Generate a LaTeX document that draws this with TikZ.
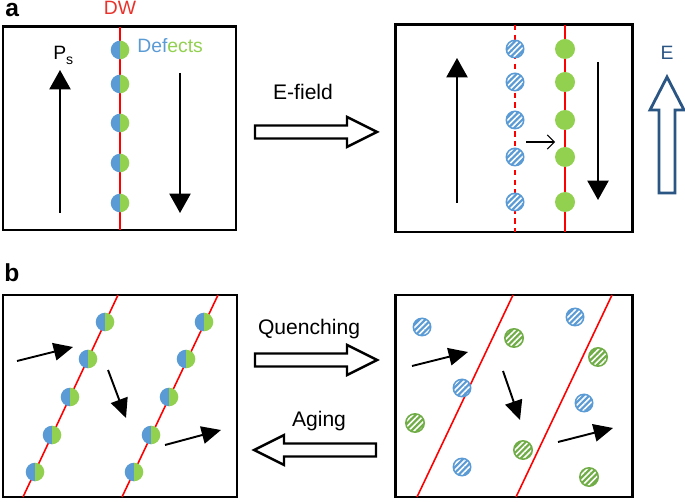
\documentclass[tikz,border=0pt]{standalone}
\usepackage{fontspec}
\setmainfont{Liberation Sans}
\usetikzlibrary{arrows.meta,patterns.meta}

\definecolor{dwred}{HTML}{FF0000}
\definecolor{dwtext}{HTML}{E8322B}
\definecolor{defblue}{HTML}{5B9BD5}
\definecolor{defgreen}{HTML}{92D050}
\definecolor{hatchgreen}{HTML}{70AD47}
\definecolor{fieldblue}{HTML}{2B5583}

\tikzset{
  panel/.style={draw=black, line width=1.7pt},
  dwall/.style={draw=dwred, line width=0.9pt},
  psarrow/.style={-{Triangle[length=11pt,width=12pt]}, line width=1.1pt},
  grainarrow/.style={-{Triangle[length=11pt,width=10pt]}, line width=1.1pt},
  hollow/.style={draw=black, fill=white, line width=1.4pt, line join=miter},
  captxt/.style={font=\fontsize{12}{14}\selectfont},
  smalltxt/.style={font=\fontsize{11}{13}\selectfont},
  panelname/.style={font=\fontsize{14}{16}\selectfont\bfseries, inner sep=0pt},
  defect/.pic={
    \fill[defblue] (0,-9.3) arc (-90:-270:9.3) -- cycle;
    \fill[defgreen] (0,-9.3) arc (-90:90:9.3) -- cycle;
  },
  hatchblue/.pic={
    \fill[defblue] (0,0) circle (9.5);
    \fill[pattern={Lines[angle=45,distance=2.3pt,line width=0.9pt]}, pattern color=white] (0,0) circle (7.8);
  },
  hatchgreen/.pic={
    \fill[hatchgreen] (0,0) circle (10);
    \fill[pattern={Lines[angle=45,distance=2.3pt,line width=0.9pt]}, pattern color=white] (0,0) circle (8.3);
  },
  fieldarrow/.pic={
    \draw[hollow] (0,-6.5) -- (92,-6.5) -- (92,-15) -- (122,0) -- (92,15) -- (92,6.5) -- (0,6.5) -- cycle;
  }
}

\begin{document}
\begin{tikzpicture}[x=0.02cm, y=-0.02cm]
  \useasboundingbox (0,0) rectangle (685,502);

  % panel a
  \node[panelname, anchor=base west] (la) at (5,17) {a};
  \node[smalltxt, text=dwtext, anchor=base] (dwlbl) at (120,15) {DW};
  \draw[panel] (3,27) rectangle (236,230);
  \draw[dwall] (120,27) -- (120,230);
  \foreach \y in {50,84,123,163,203}
    \pic at (120,\y) {defect};
  \node[smalltxt, anchor=base west, inner sep=0pt] (deflbl) at (137,53)
    {\textcolor{defblue}{Def}\textcolor{defgreen}{ects}};
  \node[smalltxt, anchor=base west, inner sep=0pt] (pslbl) at (53,60)
    {P\raisebox{-2.5pt}{\fontsize{8}{8}\selectfont s}};
  \coordinate (psA) at (60,213);  \coordinate (psB) at (60,70);
  \coordinate (psC) at (180,73);  \coordinate (psD) at (180,213);
  \draw[psarrow] (psA) -- (psB);
  \draw[psarrow] (psC) -- (psD);

  \node[captxt, anchor=base] (efield) at (303,100) {E-field};
  \pic at (255,132) {fieldarrow};

  \draw[panel] (395,25) rectangle (632,232);
  \draw[dwall, dash pattern=on 3pt off 2.5pt] (515,25) -- (515,232);
  \draw[dwall] (565,25) -- (565,232);
  \foreach \y in {49,82,120,157,202} {
    \pic at (515,\y) {hatchblue};
    \fill[defgreen] (565,\y) circle (10);
  }
  \coordinate (moveA) at (526,142); \coordinate (moveB) at (555,142);
  \draw[-{Straight Barb[length=4pt,width=8pt]}, line width=0.6pt] (moveA) -- (moveB);
  \coordinate (psE) at (457,203);  \coordinate (psF) at (457,58);
  \coordinate (psG) at (598,62);   \coordinate (psH) at (598,200);
  \draw[psarrow] (psE) -- (psF);
  \draw[psarrow] (psG) -- (psH);

  \node[smalltxt, text=fieldblue, anchor=base] (elbl) at (667,60) {E};
  \draw[draw=fieldblue, fill=white, line width=1.6pt, line join=miter]
    (659,193) -- (659,110) -- (650,110) -- (667,77) -- (684,110) -- (675,110) -- (675,193) -- cycle;

  % panel b
  \node[panelname, anchor=base west] (lb) at (4,282) {b};
  \draw[panel] (3,295) rectangle (237,497);
  \draw[dwall] (23,497) -- (118,295);
  \draw[dwall] (122,497) -- (218,295);
  \foreach \x/\y in {105/322, 88/359, 70/397, 52/435, 35/472,
                     204/322, 186/359, 169/397, 151/435, 134/472}
    \pic at (\x,\y) {defect};
  \coordinate (gA) at (17,361);  \coordinate (gB) at (73,347);
  \coordinate (gC) at (108,370); \coordinate (gD) at (126,418);
  \coordinate (gE) at (165,445); \coordinate (gF) at (221,430);
  \draw[grainarrow] (gA) -- (gB);
  \draw[grainarrow] (gC) -- (gD);
  \draw[grainarrow] (gE) -- (gF);

  \node[captxt, anchor=base] (quench) at (309,335) {Quenching};
  \pic at (255,360) {fieldarrow};
  \node[captxt, anchor=base] (aging) at (319,426) {Aging};
  \pic[rotate=180] at (376,450) {fieldarrow};

  \draw[panel] (395,295) rectangle (632,497);
  \draw[dwall] (417,497) -- (513,295);
  \draw[dwall] (516,497) -- (612,295);
  \foreach \x/\y in {422/327, 462/388, 462/467, 575/317, 584/403}
    \pic at (\x,\y) {hatchblue};
  \foreach \x/\y in {514/338, 598/357, 415/423, 523/450, 589/477}
    \pic at (\x,\y) {hatchgreen};
  \coordinate (gG) at (412,366); \coordinate (gH) at (468,352);
  \coordinate (gI) at (503,371); \coordinate (gJ) at (520,420);
  \coordinate (gK) at (558,442); \coordinate (gL) at (613,428);
  \draw[grainarrow] (gG) -- (gH);
  \draw[grainarrow] (gI) -- (gJ);
  \draw[grainarrow] (gK) -- (gL);
\end{tikzpicture}
\end{document}
